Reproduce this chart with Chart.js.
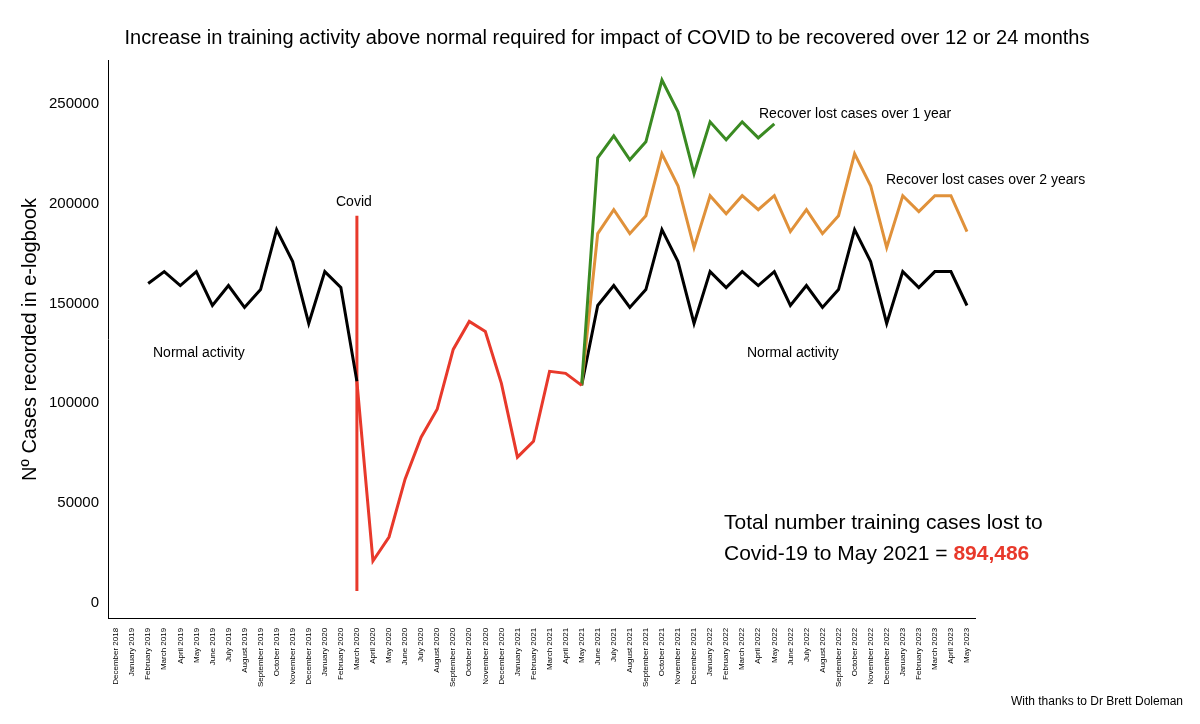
<!DOCTYPE html>
<html>
<head>
<meta charset="utf-8">
<script src="https://cdn.jsdelivr.net/npm/chart.js@4/dist/chart.umd.min.js"></script>
<style>
  html, body { margin: 0; padding: 0; background: #ffffff; }
  #wrap { width: 1200px; height: 724px; position: relative; }
</style>
</head>
<body>
<div id="wrap"><canvas id="chart"></canvas></div>
<script>
// ======================================
// Data
// ======================================

const months = [
    "December 2018",
    "January 2019", "February 2019", "March 2019", "April 2019", "May 2019", "June 2019",
    "July 2019", "August 2019", "September 2019", "October 2019", "November 2019", "December 2019",
    "January 2020", "February 2020", "March 2020", "April 2020", "May 2020", "June 2020",
    "July 2020", "August 2020", "September 2020", "October 2020", "November 2020", "December 2020",
    "January 2021", "February 2021", "March 2021", "April 2021", "May 2021", "June 2021",
    "July 2021", "August 2021", "September 2021", "October 2021", "November 2021", "December 2021",
    "January 2022", "February 2022", "March 2022", "April 2022", "May 2022", "June 2022",
    "July 2022", "August 2022", "September 2022", "October 2022", "November 2022", "December 2022",
    "January 2023", "February 2023", "March 2023", "April 2023", "May 2023"
];

const normalBefore = [
    null, null, 160000, 166000, 159000, 166000, 149000, 159000, 148000, 157000, 187000,
    171000, 140000, 166000, 158000, 111000
];

const covidActual = [
    111000, 21000, 33000, 62000, 83000, 97000, 127000, 141000, 136000, 110000,
    73000, 81000, 116000, 115000, 109000
];

const normalAfter = [
    109000, 149000, 159000, 148000, 157000, 187000, 171000, 140000, 166000, 158000,
    166000, 159000, 166000, 149000, 159000, 148000, 157000, 187000, 171000, 140000,
    166000, 158000, 166000, 166000, 149000
];

const recover1Year = [
    109000, 223000, 234000, 222000, 231000, 262000, 246000, 215000, 241000, 232000,
    241000, 233000, 240000
];

const recover2Years = [
    109000, 185000, 197000, 185000, 194000, 225000, 209000, 178000, 204000, 195000,
    204000, 197000, 204000, 186000, 197000, 185000, 194000, 225000, 209000, 178000,
    204000, 196000, 204000, 204000, 186000
];

const covidMarker = [6000, 194000];

const yTicks = [0, 50000, 100000, 150000, 200000, 250000];

// ======================================
// Helpers
// ======================================

function placeAt(startLabel, values) {
    const start = months.indexOf(startLabel);
    return values.map((v, i) => ({ x: months[start + i], y: v }));
}

function lineSet(data, color, width) {
    return {
        data: data,
        borderColor: color,
        borderWidth: width,
        pointRadius: 0,
        tension: 0,
        fill: false,
        spanGaps: false
    };
}

// ======================================
// Text annotations
// ======================================

const notesPlugin = {
    id: "notes",
    afterDraw(chart) {
        const ctx = chart.ctx;
        const xs = chart.scales.x;
        const ys = chart.scales.y;
        ctx.save();
        ctx.fillStyle = "#000";
        ctx.textBaseline = "middle";

        ctx.textAlign = "center";
        ctx.font = "20px 'Liberation Sans', Arial, sans-serif";
        ctx.fillText("Increase in training activity above normal required for impact of COVID to be recovered over 12 or 24 months", 607, 38);

        ctx.font = "14px 'Liberation Sans', Arial, sans-serif";
        ctx.textAlign = "left";
        ctx.fillText("Normal activity", 153, ys.getPixelForValue(125000));
        ctx.fillText("Normal activity", 747, ys.getPixelForValue(125000));
        ctx.fillText("Recover lost cases over 1 year", 759, ys.getPixelForValue(245000));
        ctx.fillText("Recover lost cases over 2 years", 886, ys.getPixelForValue(212000));
        ctx.textAlign = "center";
        ctx.fillText("Covid", xs.getPixelForValue(months.indexOf("March 2020")) - 3, ys.getPixelForValue(201000));

        ctx.textAlign = "left";
        ctx.font = "21px 'Liberation Sans', Arial, sans-serif";
        ctx.fillText("Total number training cases lost to", 724, 523);
        ctx.fillText("Covid-19 to May 2021 = ", 724, 554);
        const w = ctx.measureText("Covid-19 to May 2021 = ").width;
        ctx.fillStyle = "#e8392b";
        ctx.font = "bold 21px 'Liberation Sans', Arial, sans-serif";
        ctx.fillText("894,486", 724 + w, 554);

        ctx.fillStyle = "#000";
        ctx.font = "12px 'Liberation Sans', Arial, sans-serif";
        ctx.textAlign = "right";
        ctx.fillText("With thanks to Dr Brett Doleman", 1183, 702);
        ctx.restore();
    }
};

// ======================================
// Chart
// ======================================

const ctx = document.getElementById("chart").getContext("2d");

new Chart(ctx, {
    type: "line",
    data: {
        labels: months,
        datasets: [
            lineSet(placeAt("December 2018", normalBefore), "#000000", 3),
            lineSet(placeAt("March 2020", covidActual), "#e8392b", 3),
            lineSet(placeAt("May 2021", recover1Year), "#3a8a22", 3),
            lineSet(placeAt("May 2021", recover2Years), "#e0913a", 3),
            lineSet(placeAt("May 2021", normalAfter), "#000000", 3),
            lineSet(covidMarker.map(v => ({ x: "March 2020", y: v })), "#e8392b", 3)
        ]
    },
    options: {
        responsive: true,
        maintainAspectRatio: false,
        animation: false,
        layout: { padding: { top: 60, right: 225, bottom: 34, left: 14 } },
        plugins: {
            legend: { display: false },
            tooltip: { enabled: false },
            title: { display: false }
        },
        scales: {
            x: {
                offset: true,
                grid: { display: false, drawTicks: true, tickLength: 6 },
                border: { display: true, color: "#000", width: 1 },
                ticks: {
                    autoSkip: false,
                    maxRotation: 90,
                    minRotation: 90,
                    color: "#000",
                    font: { size: 8, family: "'Liberation Sans', Arial, sans-serif" }
                }
            },
            y: {
                min: -8000,
                max: 272000,
                afterBuildTicks(scale) {
                    scale.ticks = yTicks.map(v => ({ value: v }));
                },
                grid: { display: false, drawTicks: true, tickLength: 6 },
                border: { display: true, color: "#000", width: 1 },
                title: {
                    display: true,
                    text: "Nº Cases recorded in e-logbook",
                    color: "#000",
                    font: { size: 20, family: "'Liberation Sans', Arial, sans-serif" }
                },
                ticks: {
                    color: "#000",
                    callback: v => String(v),
                    font: { size: 15, family: "'Liberation Sans', Arial, sans-serif" }
                }
            }
        }
    },
    plugins: [notesPlugin]
});
</script>
</body>
</html>
